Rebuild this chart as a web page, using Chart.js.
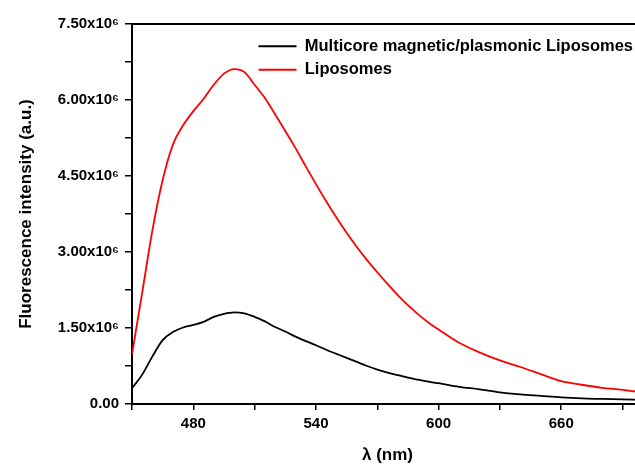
<!DOCTYPE html>
<html>
<head>
<meta charset="utf-8">
<script src="https://cdn.jsdelivr.net/npm/chart.js@4/dist/chart.umd.min.js"></script>
<style>
  html, body { margin: 0; padding: 0; background: #fff; overflow: hidden; }
  #wrap { width: 660px; height: 464px; }
</style>
</head>
<body>
<div id="wrap"><canvas id="myChart" width="660" height="464"></canvas></div>
<script>
// wavelength (nm)
var wavelengths = [450, 455, 460, 465, 470, 475, 480, 485, 490, 495, 500, 505, 510, 515, 520, 525, 530, 535, 540,
  545, 550, 555, 560, 565, 570, 575, 580, 585, 590, 595, 600,
  610, 620, 630, 640, 650, 660, 670, 680, 690, 700];

// fluorescence intensity (a.u.)
var multicore = [0.31e6, 0.58e6, 0.94e6, 1.26e6, 1.42e6, 1.51e6, 1.56e6, 1.62e6, 1.72e6, 1.78e6, 1.81e6, 1.79e6, 1.72e6, 1.63e6, 1.52e6, 1.43e6, 1.33e6, 1.24e6, 1.16e6,
  1.07e6, 0.99e6, 0.91e6, 0.83e6, 0.75e6, 0.68e6, 0.62e6, 0.57e6, 0.52e6, 0.48e6, 0.44e6, 0.41e6,
  0.34e6, 0.29e6, 0.23e6, 0.19e6, 0.16e6, 0.13e6, 0.11e6, 0.10e6, 0.09e6, 0.08e6];
var liposomes = [0.98e6, 2.20e6, 3.43e6, 4.42e6, 5.12e6, 5.50e6, 5.78e6, 6.02e6, 6.30e6, 6.52e6, 6.61e6, 6.55e6, 6.30e6, 6.04e6, 5.72e6, 5.39e6, 5.05e6, 4.69e6, 4.34e6,
  4.00e6, 3.68e6, 3.38e6, 3.10e6, 2.84e6, 2.60e6, 2.37e6, 2.15e6, 1.95e6, 1.77e6, 1.61e6, 1.47e6,
  1.21e6, 1.02e6, 0.86e6, 0.73e6, 0.59e6, 0.45e6, 0.38e6, 0.32e6, 0.28e6, 0.23e6];

var seriesNames = ['Multicore magnetic/plasmonic Liposomes', 'Liposomes'];
var seriesColors = ['#000000', '#ff0000'];

var xTickLabels = [480, 540, 600, 660];
var yTickLabels = [0, 1.5e6, 3.0e6, 4.5e6, 6.0e6, 7.5e6];

var fontFamily = '"Liberation Sans", Arial, sans-serif';

function points(values) {
  var out = [];
  for (var i = 0; i < wavelengths.length; i++) {
    out.push({ x: wavelengths[i], y: values[i] });
  }
  return out;
}

// put the legend in the upper right corner of the plot
var legendSpot = {
  id: 'legendSpot',
  afterLayout: function(chart) {
    var lg = chart.legend;
    var area = chart.chartArea;
    var w = lg.width;
    lg.left = area.right - w;
    lg.right = area.right;
    lg.top = area.top + 7;
  }
};

function display() {
  var ctx = document.getElementById('myChart').getContext('2d');
  new Chart(ctx, {
    type: 'line',
    data: {
      datasets: [{
        label: seriesNames[0],
        data: points(multicore),
        borderColor: seriesColors[0],
        backgroundColor: seriesColors[0],
        borderWidth: 1.8,
        pointRadius: 0,
        cubicInterpolationMode: 'monotone'
      }, {
        label: seriesNames[1],
        data: points(liposomes),
        borderColor: seriesColors[1],
        backgroundColor: seriesColors[1],
        borderWidth: 1.8,
        pointRadius: 0,
        cubicInterpolationMode: 'monotone'
      }]
    },
    options: {
      responsive: false,
      animation: false,
      layout: { padding: { left: 0, top: 24, right: 17, bottom: 0 } },
      plugins: {
        tooltip: { enabled: false },
        legend: {
          position: 'chartArea',
          align: 'start',
          labels: {
            usePointStyle: true,
            pointStyle: 'line',
            pointStyleWidth: 38,
            padding: 7,
            color: '#000',
            font: { family: fontFamily, size: 16.5, weight: 'bold' }
          }
        }
      },
      scales: {
        x: {
          type: 'linear',
          position: 'bottom',
          min: 450,
          max: 700,
          afterFit: function(scale) { scale.height = 60; },
          ticks: {
            stepSize: 30,
            includeBounds: false,
            autoSkip: false,
            maxRotation: 0,
            padding: 5,
            color: '#000',
            font: { family: fontFamily, size: 15, weight: 'bold' },
            callback: function(value) {
              return xTickLabels.indexOf(value) >= 0 ? String(value) : '';
            }
          },
          grid: { drawOnChartArea: false, drawTicks: true, tickLength: 6, color: '#000', lineWidth: 1.5 },
          border: { display: true, color: '#000', width: 2 },
          title: {
            display: true,
            text: 'λ (nm)',
            color: '#000',
            font: { family: fontFamily, size: 17, weight: 'bold', lineHeight: 1 },
            padding: { top: 0, bottom: 0 }
          }
        },
        x2: {
          type: 'linear',
          position: 'top',
          min: 450,
          max: 700,
          afterFit: function(scale) { scale.height = 0; },
          ticks: { display: false },
          grid: { drawOnChartArea: false, drawTicks: false },
          border: { display: true, color: '#000', width: 2 }
        },
        y: {
          type: 'linear',
          min: 0,
          max: 7.5e6,
          afterFit: function(scale) { scale.width = 132; },
          ticks: {
            stepSize: 0.75e6,
            autoSkip: false,
            padding: 6,
            color: '#000',
            font: { family: fontFamily, size: 15, weight: 'bold' },
            callback: function(value) {
              if (yTickLabels.indexOf(value) < 0) return '';
              if (value === 0) return '0.00';
              return (value / 1e6).toFixed(2) + 'x10⁶';
            }
          },
          grid: { drawOnChartArea: false, drawTicks: true, tickLength: 7, color: '#000', lineWidth: 1.5 },
          border: { display: true, color: '#000', width: 2 },
          title: {
            display: true,
            text: 'Fluorescence intensity (a.u.)',
            color: '#000',
            font: { family: fontFamily, size: 17, weight: 'bold' },
            padding: { top: 16, bottom: 0 }
          }
        }
      }
    },
    plugins: [legendSpot]
  });
}

display();
</script>
</body>
</html>
